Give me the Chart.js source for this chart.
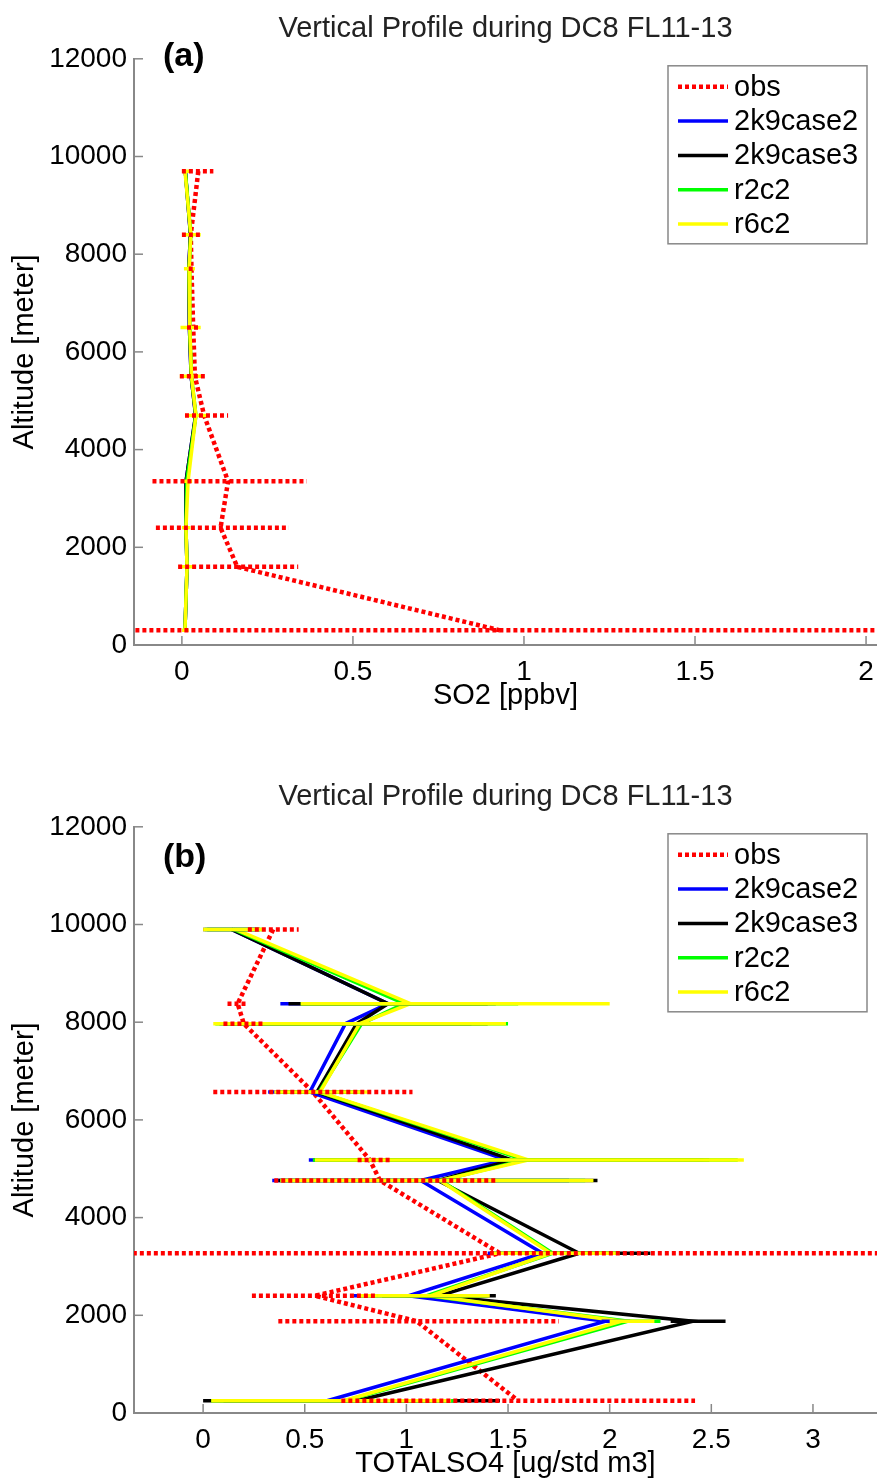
<!DOCTYPE html>
<html>
<head>
<meta charset="utf-8">
<script src="https://cdn.jsdelivr.net/npm/chart.js@4.4.0/dist/chart.umd.min.js"></script>
<style>
    html, body { margin: 0; padding: 0; background: #fff; }
    .panel { position: absolute; left: 0; width: 877px; height: 713px; }
</style>
</head>
<body>
<div class="panel" style="top:0px"><canvas id="chartA" width="877" height="713"></canvas></div>
<div class="panel" style="top:768px"><canvas id="chartB" width="877" height="713"></canvas></div>
<script>
// series names / colours (same for both panels)
const seriesNames = ['obs', '2k9case2', '2k9case3', 'r2c2', 'r6c2'];
const seriesColors = ['#ff0000', '#0000ff', '#000000', '#00ff00', '#ffff00'];

// tick labels
const altTicks = [0, 2000, 4000, 6000, 8000, 10000, 12000];
const so2Ticks = [0, 0.5, 1, 1.5, 2];
const so4Ticks = [0, 0.5, 1, 1.5, 2, 2.5, 3];

// ---- panel (a) : SO2 [ppbv] ----
const altA = [9700, 8400, 7700, 6500, 5500, 4700, 3350, 2400, 1600, 300];
const so2Obs   = [0.048, 0.026, 0.028, 0.033, 0.038, 0.065, 0.135, 0.113, 0.162, 0.93];
const so2ObsLo = [0.0, 0.0, 0.02, 0.015, -0.006, 0.009, -0.086, -0.076, -0.011, -1.2];
const so2ObsHi = [0.092, 0.053, 0.036, 0.05, 0.073, 0.135, 0.365, 0.313, 0.34, 3.1];
const so2Case2 = [0.010, 0.025, 0.020, 0.022, 0.027, 0.040, 0.012, 0.012, 0.015, 0.009];
const so2Case3 = [0.010, 0.025, 0.020, 0.022, 0.027, 0.040, 0.012, 0.012, 0.015, 0.009];
const so2R2c2  = [0.010, 0.026, 0.021, 0.023, 0.028, 0.041, 0.014, 0.012, 0.015, 0.009];
const so2R6c2  = [0.009, 0.026, 0.021, 0.023, 0.028, 0.041, 0.018, 0.012, 0.015, 0.009];
const so2R6c2Lo = [0.0, 0.009, 0.006, -0.004, -0.006, 0.009, 0.005, 0.0, -0.01, 0.0];
const so2R6c2Hi = [0.03, 0.055, 0.038, 0.055, 0.064, 0.075, 0.03, 0.025, 0.038, 0.02];

// ---- panel (b) : TOTALSO4 [ug/std m3] ----
const altB = [9900, 8380, 7970, 6570, 5180, 4760, 3270, 2400, 1880, 250];
const so4Obs   = [0.345, 0.17, 0.20, 0.54, 0.82, 0.87, 1.46, 0.55, 1.05, 1.55];
const so4ObsLo = [0.22, 0.12, 0.10, 0.05, 0.76, 0.35, -1.0, 0.24, 0.37, 0.68];
const so4ObsHi = [0.47, 0.22, 0.30, 1.03, 0.92, 1.45, 4.0, 0.86, 1.75, 2.42];
const so4Case2   = [0.14, 0.91, 0.70, 0.525, 1.49, 1.07, 1.67, 1.01, 1.98, 0.61];
const so4Case2Lo = [0.02, 0.38, 0.08, 0.32, 0.52, 0.34, 1.40, 0.74, 1.96, 0.10];
const so4Case2Hi = [0.26, 1.44, 1.32, 0.73, 2.46, 1.80, 1.94, 1.28, 2.10, 1.12];
const so4Case3   = [0.14, 0.91, 0.755, 0.56, 1.52, 1.155, 1.85, 1.16, 2.41, 0.755];
const so4Case3Lo = [0.0, 0.42, 0.10, 0.36, 0.55, 0.37, 1.50, 0.88, 2.30, 0.0];
const so4Case3Hi = [0.28, 1.40, 1.40, 0.76, 2.49, 1.94, 2.20, 1.44, 2.57, 1.46];
const so4R2c2    = [0.15, 0.99, 0.78, 0.57, 1.58, 1.17, 1.72, 1.10, 2.09, 0.70];
const so4R2c2Lo  = [0.01, 0.48, 0.06, 0.37, 0.54, 0.38, 1.42, 0.77, 2.02, 0.04];
const so4R2c2Hi  = [0.29, 1.55, 1.50, 0.79, 2.63, 1.88, 2.05, 1.40, 2.25, 1.24];
const so4R6c2    = [0.16, 1.02, 0.77, 0.575, 1.60, 1.165, 1.71, 1.12, 2.06, 0.69];
const so4R6c2Lo  = [0.0, 0.48, 0.05, 0.35, 0.55, 0.38, 1.42, 0.77, 2.00, 0.04];
const so4R6c2Hi  = [0.30, 2.00, 1.49, 0.81, 2.66, 1.92, 2.03, 1.41, 2.22, 1.22];

const FONT = '"Liberation Sans", Arial, Helvetica, sans-serif';
Chart.defaults.font.family = FONT;
Chart.defaults.color = '#000';

function pts(xs, alts) {
    return xs.map((v, i) => ({ x: v, y: alts[i] }));
}

function makeDatasets(alts, series) {
    // series: [[values, lo, hi], ...] in seriesNames order
    return series.map((s, i) => ({
        label: seriesNames[i],
        data: pts(s[0], alts),
        errLo: s[1],
        errHi: s[2],
        showLine: true,
        borderColor: seriesColors[i],
        backgroundColor: seriesColors[i],
        borderWidth: i === 0 ? 4.5 : 3.5,
        borderDash: i === 0 ? [4, 3] : [],
        pointRadius: 0,
        tension: 0,
        // obs at the bottom, r6c2 on top
        order: i === 0 ? 10 : 5 - i
    }));
}

// horizontal error bars, models first, obs (red dotted) last
const errorBars = {
    id: 'errorBars',
    afterDatasetsDraw(chart) {
        const { ctx, chartArea, scales: { x, y } } = chart;
        ctx.save();
        ctx.beginPath();
        ctx.rect(chartArea.left, chartArea.top, chartArea.right - chartArea.left, chartArea.bottom - chartArea.top);
        ctx.clip();
        const sets = chart.data.datasets.slice(1).concat(chart.data.datasets[0]);
        sets.forEach(ds => {
            if (!ds.errLo) return;
            ctx.strokeStyle = ds.borderColor;
            ctx.lineWidth = ds.borderWidth;
            ctx.setLineDash(ds.borderDash);
            ds.data.forEach((p, i) => {
                const py = y.getPixelForValue(p.y);
                ctx.beginPath();
                ctx.moveTo(x.getPixelForValue(ds.errLo[i]), py);
                ctx.lineTo(x.getPixelForValue(ds.errHi[i]), py);
                ctx.stroke();
            });
        });
        ctx.restore();
    }
};

// matlab style ticks pointing into the axes
const innerTicks = {
    id: 'innerTicks',
    beforeDatasetsDraw(chart) {
        const { ctx, chartArea, scales: { x, y } } = chart;
        ctx.save();
        ctx.strokeStyle = '#888';
        ctx.lineWidth = 1.5;
        x.ticks.forEach(t => {
            const px = x.getPixelForValue(t.value);
            ctx.beginPath();
            ctx.moveTo(px, chartArea.bottom);
            ctx.lineTo(px, chartArea.bottom - 9);
            ctx.stroke();
        });
        y.ticks.forEach(t => {
            const py = y.getPixelForValue(t.value);
            ctx.beginPath();
            ctx.moveTo(chartArea.left, py);
            ctx.lineTo(chartArea.left + 9, py);
            ctx.stroke();
        });
        ctx.restore();
    }
};

// boxed legend in the upper right corner + panel letter
const boxLegend = {
    id: 'boxLegend',
    afterDatasetsDraw(chart, args, opts) {
        const { ctx, chartArea } = chart;
        const w = 199, h = 178;
        const left = chartArea.right - 10 - w, top = chartArea.top + 7;
        ctx.save();
        ctx.fillStyle = '#fff';
        ctx.fillRect(left, top, w, h);
        ctx.strokeStyle = '#888';
        ctx.lineWidth = 1.5;
        ctx.strokeRect(left, top, w, h);
        ctx.font = '29px ' + FONT;
        ctx.textBaseline = 'middle';
        chart.data.datasets.forEach((ds, i) => {
            const cy = top + 21 + i * 34.3;
            ctx.strokeStyle = ds.borderColor;
            ctx.lineWidth = ds.borderWidth;
            ctx.setLineDash(ds.borderDash);
            ctx.beginPath();
            ctx.moveTo(left + 10, cy);
            ctx.lineTo(left + 60, cy);
            ctx.stroke();
            ctx.setLineDash([]);
            ctx.fillStyle = '#000';
            ctx.fillText(ds.label, left + 66, cy + 1);
        });
        // (a) / (b)
        ctx.font = 'bold 34px ' + FONT;
        ctx.textBaseline = 'middle';
        ctx.fillText(opts.panel, chartArea.left + 29, chartArea.top + opts.panelDy);
        ctx.restore();
    }
};

function makeOptions(xMin, xMax, xTicks, xTitle, panel, panelDy) {
    return {
        responsive: false,
        animation: false,
        layout: { padding: { left: 0, right: 0, top: 0, bottom: 0 } },
        plugins: {
            legend: { display: false },
            tooltip: { enabled: false },
            title: {
                display: true,
                text: 'Vertical Profile during DC8 FL11-13',
                fullSize: false,
                color: '#222',
                font: { size: 29, weight: 'normal' },
                padding: { top: 12, bottom: 12 }
            },
            boxLegend: { panel: panel, panelDy: panelDy }
        },
        scales: {
            x: {
                type: 'linear',
                min: xMin,
                max: xMax,
                afterBuildTicks: s => { s.ticks = xTicks.map(v => ({ value: v })); },
                // fixed height, and no extra side padding so the axis reaches the right edge
                afterFit: s => { s.height = 68; s.paddingLeft = 0; s.paddingRight = 0; },
                grid: { display: false, drawTicks: false },
                border: { display: true, color: '#888', width: 2 },
                ticks: { font: { size: 28 }, padding: 10, maxRotation: 0, callback: v => String(v) },
                title: { display: true, text: xTitle, font: { size: 29 }, padding: { top: 0, bottom: 0 } }
            },
            y: {
                type: 'linear',
                min: 0,
                max: 12000,
                afterBuildTicks: s => { s.ticks = altTicks.map(v => ({ value: v })); },
                afterFit: s => { s.width = 134; },
                grid: { display: false, drawTicks: false },
                border: { display: true, color: '#888', width: 2 },
                ticks: { font: { size: 28 }, padding: 7, callback: v => String(v) },
                title: { display: true, text: 'Altitude [meter]', font: { size: 29 }, padding: { top: 8, bottom: 0 } }
            }
        }
    };
}

new Chart(document.getElementById('chartA'), {
    type: 'scatter',
    data: {
        datasets: makeDatasets(altA, [
            [so2Obs, so2ObsLo, so2ObsHi],
            [so2Case2, null, null],
            [so2Case3, null, null],
            [so2R2c2, null, null],
            [so2R6c2, so2R6c2Lo, so2R6c2Hi]
        ])
    },
    options: makeOptions(-0.14, 2.032, so2Ticks, 'SO2 [ppbv]', '(a)', -2),
    plugins: [innerTicks, errorBars, boxLegend]
});

new Chart(document.getElementById('chartB'), {
    type: 'scatter',
    data: {
        datasets: makeDatasets(altB, [
            [so4Obs, so4ObsLo, so4ObsHi],
            [so4Case2, so4Case2Lo, so4Case2Hi],
            [so4Case3, so4Case3Lo, so4Case3Hi],
            [so4R2c2, so4R2c2Lo, so4R2c2Hi],
            [so4R6c2, so4R6c2Lo, so4R6c2Hi]
        ])
    },
    options: makeOptions(-0.34, 3.315, so4Ticks, 'TOTALSO4 [ug/std m3]', '(b)', 31),
    plugins: [innerTicks, errorBars, boxLegend]
});
</script>
</body>
</html>
